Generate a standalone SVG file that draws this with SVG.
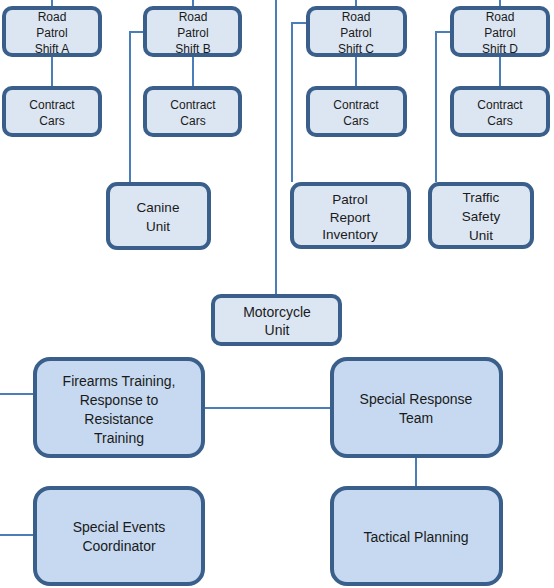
<svg xmlns="http://www.w3.org/2000/svg" width="554" height="588" viewBox="0 0 554 588">
<style>
.s{fill:#dce6f2;stroke:#3a5f8b;stroke-width:4}
.b{fill:#c6d9f0;stroke:#3a5f8b;stroke-width:4}
.c{fill:none;stroke:#4a7ebb;stroke-width:2}
text{font-family:"Liberation Sans",Arial,sans-serif;fill:#1a1a1a;text-anchor:middle}
.t1{font-size:12px}
.t2{font-size:13.5px}
.t3{font-size:14px}
</style>
<rect width="554" height="588" fill="#fff"/>
<g id="connectors">
<path class="c" d="M52,0V6M52,57V86"/>
<path class="c" d="M193,0V6M193,57V86"/>
<path class="c" d="M356,0V6M356,57V86"/>
<path class="c" d="M500,0V6M500,57V86"/>
<path class="c" d="M143,32H130V182"/>
<path class="c" d="M306,23H292V182"/>
<path class="c" d="M450,32H436V182"/>
<path class="c" d="M276,0V294"/>
<path class="c" d="M0,394H33"/>
<path class="c" d="M205,408H330"/>
<path class="c" d="M0,535H33"/>
<path class="c" d="M416,458V486"/>
</g>
<g id="shiftA"><rect class="s" x="4" y="8" width="96" height="47" rx="8"/><text class="t1" x="52" y="21">Road</text><text class="t1" x="52" y="37">Patrol</text><text class="t1" x="52" y="53">Shift A</text></g>
<g id="carsA"><rect class="s" x="4" y="88" width="96" height="47" rx="8"/><text class="t1" x="52" y="109">Contract</text><text class="t1" x="52" y="125">Cars</text></g>
<g id="shiftB"><rect class="s" x="145" y="8" width="95" height="47" rx="8"/><text class="t1" x="193" y="21">Road</text><text class="t1" x="193" y="37">Patrol</text><text class="t1" x="193" y="53">Shift B</text></g>
<g id="carsB"><rect class="s" x="145" y="88" width="95" height="47" rx="8"/><text class="t1" x="193" y="109">Contract</text><text class="t1" x="193" y="125">Cars</text></g>
<g id="shiftC"><rect class="s" x="308" y="8" width="97" height="47" rx="8"/><text class="t1" x="356" y="21">Road</text><text class="t1" x="356" y="37">Patrol</text><text class="t1" x="356" y="53">Shift C</text></g>
<g id="carsC"><rect class="s" x="308" y="88" width="97" height="47" rx="8"/><text class="t1" x="356" y="109">Contract</text><text class="t1" x="356" y="125">Cars</text></g>
<g id="shiftD"><rect class="s" x="452" y="8" width="96" height="47" rx="8"/><text class="t1" x="500" y="21">Road</text><text class="t1" x="500" y="37">Patrol</text><text class="t1" x="500" y="53">Shift D</text></g>
<g id="carsD"><rect class="s" x="452" y="88" width="96" height="47" rx="8"/><text class="t1" x="500" y="109">Contract</text><text class="t1" x="500" y="125">Cars</text></g>
<g id="canine"><rect class="s" x="108" y="184" width="101" height="64" rx="9"/><text class="t2" x="158" y="212">Canine</text><text class="t2" x="158" y="231">Unit</text></g>
<g id="patrolReport"><rect class="s" x="292" y="184" width="117" height="63" rx="9"/><text class="t2" x="350" y="204">Patrol</text><text class="t2" x="350" y="222">Report</text><text class="t2" x="350" y="239">Inventory</text></g>
<g id="traffic"><rect class="s" x="430" y="184" width="102" height="63" rx="9"/><text class="t2" x="481" y="202">Traffic</text><text class="t2" x="481" y="221">Safety</text><text class="t2" x="481" y="240">Unit</text></g>
<g id="motorcycle"><rect class="s" x="213" y="296" width="127" height="48" rx="8"/><text class="t3" x="277" y="317">Motorcycle</text><text class="t3" x="277" y="335">Unit</text></g>
<g id="firearms"><rect class="b" x="35" y="359" width="168" height="97" rx="15"/><text class="t3" x="119" y="386">Firearms Training,</text><text class="t3" x="119" y="405">Response to</text><text class="t3" x="119" y="424">Resistance</text><text class="t3" x="119" y="443">Training</text></g>
<g id="specialEvents"><rect class="b" x="35" y="488" width="168" height="96" rx="15"/><text class="t3" x="119" y="532">Special Events</text><text class="t3" x="119" y="551">Coordinator</text></g>
<g id="srt"><rect class="b" x="332" y="359" width="169" height="97" rx="15"/><text class="t3" x="416" y="404">Special Response</text><text class="t3" x="416" y="423">Team</text></g>
<g id="tactical"><rect class="b" x="332" y="488" width="169" height="96" rx="15"/><text class="t3" x="416" y="542">Tactical Planning</text></g>
</svg>
